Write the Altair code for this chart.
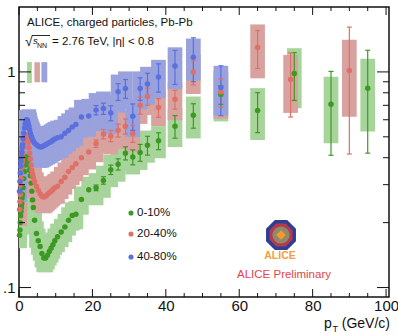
import altair as alt
import pandas as pd

# ---------------- data ----------------
PT_LOW = [0.15, 0.25, 0.35, 0.45, 0.55, 0.65, 0.75, 0.85, 0.95, 1.1, 1.3, 1.5, 1.7, 1.9,
          2.1, 2.3, 2.5, 2.7, 2.9, 3.1, 3.3, 3.5, 3.7, 3.9, 4.25, 4.75, 5.25, 5.75, 6.25,
          6.75, 7.25, 7.75, 8.25, 8.75, 9.25, 9.75]
PT_MID = [10.5, 11.5, 12.5, 13.5, 14.5, 15.5, 17, 19, 21, 23, 25, 27, 29, 31, 33, 35, 38,
          42.5, 47.5]
PT_G_HIGH = [55, 65, 75, 85, 95]
PT_R_HIGH = [55, 65, 74, 90]
PT_B_HIGH = [55]

# 0-10 %
R_G = [0.175, 0.185, 0.20, 0.215, 0.225, 0.235, 0.245, 0.26, 0.27, 0.29, 0.32, 0.345, 0.37,
       0.39, 0.405, 0.405, 0.39, 0.37, 0.35, 0.33, 0.305, 0.28, 0.255, 0.235, 0.205, 0.178,
       0.165, 0.155, 0.144, 0.137, 0.137, 0.141, 0.147, 0.152, 0.158, 0.165,
       0.172, 0.181, 0.191, 0.205, 0.216, 0.219, 0.256, 0.284, 0.29, 0.314, 0.352, 0.373,
       0.42, 0.403, 0.423, 0.457, 0.479, 0.56, 0.63,
       0.786, 0.662, 0.983, 0.708, 0.84]
# 20-40 %
R_R = [0.23, 0.25, 0.27, 0.30, 0.32, 0.34, 0.36, 0.38, 0.395, 0.42, 0.45, 0.475, 0.495, 0.51,
       0.51, 0.495, 0.47, 0.445, 0.42, 0.395, 0.37, 0.35, 0.335, 0.325, 0.31, 0.295, 0.283,
       0.272, 0.265, 0.263, 0.265, 0.27, 0.275, 0.28, 0.285, 0.29,
       0.295, 0.31, 0.325, 0.345, 0.36, 0.375, 0.40, 0.425, 0.465, 0.515, 0.505, 0.536,
       0.56, 0.518, 0.70, 0.77, 0.684, 0.747, 1.0,
       0.808, 1.297, 0.922, 1.015]
# 40-80 %
R_B = [0.28, 0.31, 0.34, 0.365, 0.385, 0.405, 0.425, 0.445, 0.46, 0.49, 0.52, 0.55, 0.575,
       0.595, 0.60, 0.595, 0.58, 0.56, 0.54, 0.52, 0.505, 0.495, 0.485, 0.477, 0.468, 0.46,
       0.452, 0.449, 0.45, 0.455, 0.46, 0.465, 0.47, 0.475, 0.482, 0.488,
       0.495, 0.50, 0.52, 0.535, 0.556, 0.57, 0.618, 0.625, 0.665, 0.676, 0.645, 0.81,
       0.838, 0.623, 0.838, 0.88, 0.948, 1.066, 1.17,
       0.847]

# relative statistical uncertainties (negligible below 20 GeV/c)
STAT_G = [0.03, 0.04, 0.05, 0.06, 0.07, 0.08, 0.09, 0.10, 0.09, 0.12, 0.13,
          0.10, 0.21, 0.25, 0.42, 0.50]
STAT_R = [0.04, 0.05, 0.06, 0.07, 0.08, 0.09, 0.09, 0.09, 0.10, 0.10, 0.13,
          0.15, 0.20, 0.33, 0.59]
STAT_B = [0.05, 0.06, 0.08, 0.09, 0.10, 0.14, 0.12, 0.12, 0.15, 0.18, 0.23,
          0.26]
STAT_FROM = 21  # first pT with a visible statistical bar

# relative systematic uncertainties (boxes)
SYS_G = [0.13, 0.13, 0.13, 0.13, 0.13, 0.13, 0.13, 0.13, 0.13, 0.13, 0.13, 0.13, 0.13, 0.13,
         0.13, 0.13, 0.13, 0.13, 0.13, 0.14, 0.14, 0.14, 0.14, 0.14, 0.14, 0.14, 0.14, 0.14,
         0.14, 0.14, 0.14, 0.14, 0.14, 0.14, 0.14, 0.14,
         0.15, 0.15, 0.15, 0.15, 0.15, 0.15, 0.15, 0.15, 0.17, 0.17, 0.17, 0.17, 0.17, 0.17,
         0.17, 0.17, 0.17, 0.20, 0.22,
         0.25, 0.27, 0.31, 0.34, 0.37]
SYS_R = [0.16, 0.16, 0.16, 0.16, 0.16, 0.16, 0.16, 0.16, 0.16, 0.16, 0.16, 0.16, 0.16, 0.16,
         0.16, 0.16, 0.16, 0.16, 0.16, 0.16, 0.16, 0.16, 0.16, 0.16, 0.16, 0.16, 0.16, 0.16,
         0.16, 0.16, 0.16, 0.16, 0.16, 0.16, 0.16, 0.16,
         0.17, 0.17, 0.17, 0.17, 0.17, 0.17, 0.17, 0.17, 0.18, 0.18, 0.18, 0.18, 0.18, 0.18,
         0.18, 0.18, 0.18, 0.20, 0.21,
         0.25, 0.28, 0.30, 0.39]
SYS_B = [0.11, 0.11, 0.11, 0.11, 0.11, 0.11, 0.11, 0.11, 0.11, 0.11, 0.11, 0.11, 0.11, 0.11,
         0.11, 0.11, 0.11, 0.20, 0.20, 0.20, 0.20, 0.20, 0.20, 0.20, 0.20, 0.20, 0.20, 0.20,
         0.20, 0.20, 0.20, 0.20, 0.20, 0.20, 0.20, 0.20,
         0.20, 0.20, 0.20, 0.20, 0.20, 0.20, 0.20, 0.20, 0.20, 0.20, 0.20, 0.20, 0.20, 0.20,
         0.20, 0.20, 0.20, 0.22, 0.22,
         0.26]

# normalisation uncertainty boxes at R = 1
NORM_X1 = [2.2, 4.2, 6.1]
NORM_X2 = [3.5, 5.7, 7.7]
NORM_LO = [0.889, 0.895, 0.895]
NORM_HI = [1.113, 1.11, 1.11]

SERIES = ["0-10%", "20-40%", "40-80%"]
POINT_COL = ["#3c9a23", "#de7068", "#5b6fdf"]
BOX_COL = ["#a6d49a", "#d8a29f", "#99a2dc"]

X_MAJOR = [0, 20, 40, 60, 80, 100]
X_MINOR = [5, 10, 15, 25, 30, 35, 45, 50, 55, 65, 70, 75, 85, 90, 95]
Y_MAJOR = [0.1, 1]
Y_MINOR = [0.2, 0.3, 0.4, 0.5, 0.6, 0.7, 0.8, 0.9]

# ---------------- table ----------------
rows = []
specs = [
    (SERIES[0], PT_LOW + PT_MID + PT_G_HIGH, R_G, STAT_G, SYS_G),
    (SERIES[1], PT_LOW + PT_MID + PT_R_HIGH, R_R, STAT_R, SYS_R),
    (SERIES[2], PT_LOW + PT_MID + PT_B_HIGH, R_B, STAT_B, SYS_B),
]
for k, (name, pts, rs, stats, syss) in enumerate(specs):
    n_st = 0
    for pt, r, sy in zip(pts, rs, syss):
        st = 0.0
        if pt >= STAT_FROM:
            st = stats[n_st]
            n_st += 1
        rows.append({"series": name, "order": k, "pt": pt, "R": r,
                     "st": st, "sy": sy})
df = pd.DataFrame(rows)
norm = pd.DataFrame({"series": SERIES, "x1": NORM_X1, "x2": NORM_X2,
                     "lo": NORM_LO, "hi": NORM_HI})

W, H = 370, 290
xs = alt.Scale(domain=[0, 100.8], nice=False, zero=False)
ys = alt.Scale(type="log", domain=[0.0904, 2.0], nice=False)
pcol = alt.Scale(domain=SERIES, range=POINT_COL)
bcol = alt.Scale(domain=SERIES, range=BOX_COL)
FONT = "Liberation Sans"

base = alt.Chart(df)

boxes = base.transform_calculate(
    x1="max(datum.pt - 2, 0)", x2="datum.pt + 2",
    lo="datum.R * (1 - datum.sy)", hi="datum.R * (1 + datum.sy)"
).mark_rect(clip=True, opacity=1).encode(
    x=alt.X("x1:Q", scale=xs,
            axis=alt.Axis(values=X_MAJOR, ticks=False, domain=False, grid=False,
                          labelFontSize=15, labelFont=FONT, labelColor="#111",
                          labelPadding=1, title=None, labelFlush=False)),
    x2="x2:Q",
    y=alt.Y("lo:Q", scale=ys,
            axis=alt.Axis(values=Y_MAJOR, ticks=False, domain=False, grid=False,
                          labelFontSize=15, labelFont=FONT, labelColor="#111",
                          labelPadding=4, title=None,
                          labelExpr="datum.value == 1 ? '1' : '.1'")),
    y2="hi:Q",
    fill=alt.Fill("series:N", scale=bcol, legend=None),
    order="order:Q",
)

normbox = alt.Chart(norm).mark_rect(opacity=1).encode(
    x=alt.X("x1:Q", scale=xs), x2="x2:Q",
    y=alt.Y("lo:Q", scale=ys), y2="hi:Q",
    fill=alt.Fill("series:N", scale=bcol, legend=None),
)

stat = base.transform_filter("datum.st > 0").transform_calculate(
    slo="datum.R * (1 - datum.st)", shi="datum.R * (1 + datum.st)")
errbar = stat.mark_rule(strokeWidth=1.2).encode(
    x=alt.X("pt:Q", scale=xs), y=alt.Y("slo:Q", scale=ys), y2="shi:Q",
    color=alt.Color("series:N", scale=pcol, legend=None))
cap_lo = stat.mark_rule(strokeWidth=1.2, xOffset=-2.5, x2Offset=2.5).encode(
    x=alt.X("pt:Q", scale=xs), x2="pt:Q", y=alt.Y("slo:Q", scale=ys),
    color=alt.Color("series:N", scale=pcol, legend=None))
cap_hi = stat.mark_rule(strokeWidth=1.2, xOffset=-2.5, x2Offset=2.5).encode(
    x=alt.X("pt:Q", scale=xs), x2="pt:Q", y=alt.Y("shi:Q", scale=ys),
    color=alt.Color("series:N", scale=pcol, legend=None))

points = base.mark_circle(size=30, opacity=1).encode(
    x=alt.X("pt:Q", scale=xs), y=alt.Y("R:Q", scale=ys),
    color=alt.Color("series:N", scale=pcol, legend=None))

# ---------------- inward ticks ----------------
def xticks(vals, length):
    d = pd.DataFrame({"v": vals})
    bot = alt.Chart(d).mark_rule(color="#111", strokeWidth=1).encode(
        x=alt.X("v:Q", scale=xs), y=alt.value(H), y2=alt.value(H - length))
    top = alt.Chart(d).mark_rule(color="#111", strokeWidth=1).encode(
        x=alt.X("v:Q", scale=xs), y=alt.value(0), y2=alt.value(length))
    return bot + top

def yticks(vals, length):
    d = pd.DataFrame({"v": vals})
    left = alt.Chart(d).mark_rule(color="#111", strokeWidth=1).encode(
        y=alt.Y("v:Q", scale=ys), x=alt.value(0), x2=alt.value(length))
    right = alt.Chart(d).mark_rule(color="#111", strokeWidth=1).encode(
        y=alt.Y("v:Q", scale=ys), x=alt.value(W), x2=alt.value(W - length))
    return left + right

ticks = xticks(X_MAJOR, 8) + xticks(X_MINOR, 4) + yticks(Y_MAJOR, 12) + yticks(Y_MINOR, 6)

# ---------------- texts ----------------
def txt(s, x, y, size=11, color="#111", align="left", baseline="middle",
        weight="normal", style="normal"):
    return alt.Chart(pd.DataFrame({"t": [s]})).mark_text(
        align=align, baseline=baseline, fontSize=size, font=FONT, color=color,
        fontWeight=weight, fontStyle=style
    ).encode(x=alt.value(x), y=alt.value(y), text="t:N")

texts = (
    txt("ALICE, charged particles, Pb-Pb", 8, 16, 11.5)
    + txt("√", 6, 35, 14)
    + txt("s", 14, 34, 9.5, style="italic")
    + txt("NN", 18, 39, 7)
    + txt("= 2.76 TeV, |η| < 0.8", 33, 35, 11.5)
    + txt("p", 305, 321, 14, baseline="alphabetic")
    + txt("T", 313.5, 325, 9, baseline="alphabetic")
    + txt("(GeV/c)", 371, 321, 14, align="right", baseline="alphabetic")
    + txt("ALICE Preliminary", 265, 268, 11.5, color="#e6434b", align="center")
    + txt("ALICE", 261, 249, 10.5, color="#f2a03c", align="center", weight="bold")
)
overline = alt.Chart(pd.DataFrame({"a": [0]})).mark_rule(color="#111", strokeWidth=0.9).encode(
    x=alt.value(13), x2=alt.value(31), y=alt.value(28.5))

leg = pd.DataFrame({"series": SERIES, "ly": [206, 227, 250]})
leg_pts = alt.Chart(leg).mark_circle(size=26, opacity=1).encode(
    x=alt.value(112), y=alt.Y("ly:Q", scale=None),
    color=alt.Color("series:N", scale=pcol, legend=None))
leg_txt = alt.Chart(leg).mark_text(align="left", baseline="middle", fontSize=11.5,
                                   font=FONT, color="#111").encode(
    x=alt.value(118), y=alt.Y("ly:Q", scale=None), text="series:N")

# ALICE logo (simplified)
OCT = "M -0.41 -1 L 0.41 -1 L 1 -0.41 L 1 0.41 L 0.41 1 L -0.41 1 L -1 0.41 L -1 -0.41 Z"
logo_df = pd.DataFrame({"a": [0]})
logo = (
    alt.Chart(logo_df).mark_point(shape=OCT, filled=True, size=780, fill="#2d3e98",
                                  stroke="#2d3e98", opacity=1)
    .encode(x=alt.value(262), y=alt.value(228))
    + alt.Chart(logo_df).mark_point(shape=OCT, filled=True, size=440, fill="#b63a4b",
                                    stroke="#b63a4b", opacity=1)
    .encode(x=alt.value(262), y=alt.value(228))
    + alt.Chart(logo_df).mark_point(shape="circle", filled=True, size=230, fill="#8f8a6c",
                                    stroke="#8f8a6c", opacity=1)
    .encode(x=alt.value(262), y=alt.value(228))
    + alt.Chart(logo_df).mark_point(shape="diamond", filled=True, size=45, fill="#f39a2a",
                                    stroke="#f39a2a", opacity=1)
    .encode(x=alt.value(262), y=alt.value(228))
)

chart = alt.layer(
    boxes, normbox, errbar, cap_lo, cap_hi, points, ticks, overline, texts,
    leg_pts, leg_txt, logo
).properties(
    width=W, height=H,
    autosize=alt.AutoSizeParams(type="none"),
    padding={"left": 19, "top": 7, "right": 9, "bottom": 36},
    background="white",
).configure_view(stroke="#111", strokeWidth=1.5)

chart.save("out.html", embed_options={"renderer": "svg", "actions": False})
